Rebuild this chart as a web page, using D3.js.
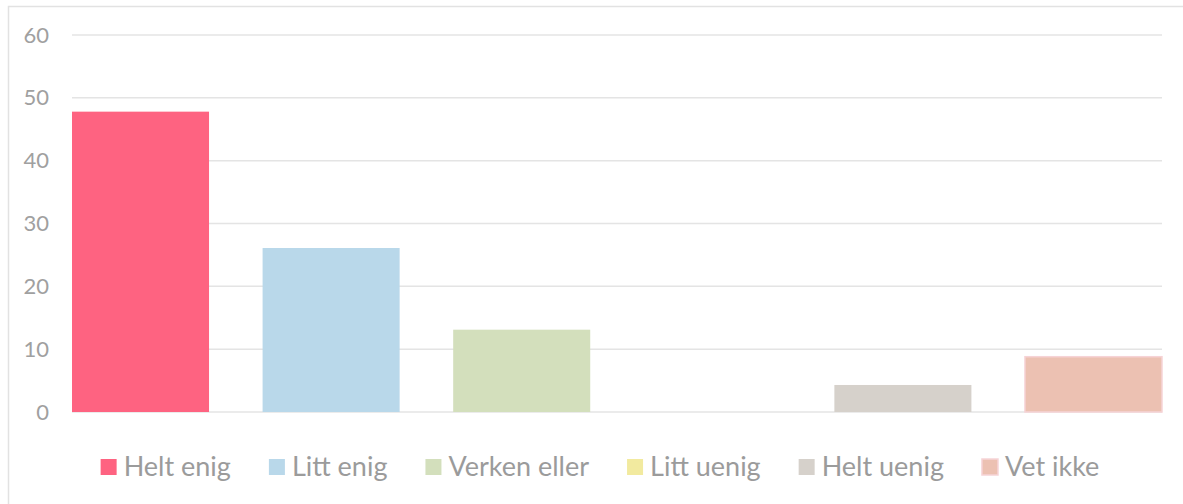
<!DOCTYPE html>
<html>
<head>
<meta charset="utf-8">
<script src="https://cdn.jsdelivr.net/npm/d3@7"></script>
<style>
  body { margin: 0; background: #fff; }
  svg { display: block; font-family: Lato, "Open Sans", sans-serif; }
</style>
</head>
<body>
<div id="chart"></div>
<script>
// answer categories and percentages
var categories = ["Helt enig", "Litt enig", "Verken eller", "Litt uenig", "Helt uenig", "Vet ikke"];
var values = [47.8, 26.1, 13.1, 0, 4.3, 8.8];
var colors = ["#fe6381", "#b9d8ea", "#d3dfbc", "#f2ea9f", "#d6d1cb", "#ecc1b2"];
var yTicks = [0, 10, 20, 30, 40, 50, 60];

var width = 1183, height = 504;
var margin = {left: 72, right: 21, top: 35, bottom: 92};
var pw = width - margin.left - margin.right;
var ph = height - margin.top - margin.bottom;

var svg = d3.select("#chart").append("svg")
    .attr("width", width)
    .attr("height", height);

// chart frame
svg.append("rect")
    .attr("x", 8.5).attr("y", 6.5)
    .attr("width", 1200).attr("height", 520)
    .attr("fill", "none")
    .attr("stroke", "#e2e2e2")
    .attr("stroke-width", 1.5);

var g = svg.append("g")
    .attr("transform", "translate(" + margin.left + "," + margin.top + ")");

var x = d3.scaleBand()
    .domain(categories)
    .range([0, pw])
    .paddingInner(0.281)
    .paddingOuter(0);

var y = d3.scaleLinear()
    .domain([0, 60])
    .range([ph, 0]);

// gridlines
g.selectAll("line.grid")
    .data(yTicks)
    .enter().append("line")
    .attr("class", "grid")
    .attr("x1", 0).attr("x2", pw)
    .attr("y1", d => y(d)).attr("y2", d => y(d))
    .attr("stroke", "#e4e4e4")
    .attr("stroke-width", 1.5);

// y axis labels
var yAxis = g.append("g")
    .call(d3.axisLeft(y).tickValues(yTicks).tickSize(0).tickPadding(23));
yAxis.select(".domain").remove();
yAxis.selectAll("text")
    .attr("fill", "#a0a0a0")
    .style("font-size", "22px")
    .style("font-family", "Lato, sans-serif");

// bars
g.selectAll("rect.bar")
    .data(values)
    .enter().append("rect")
    .attr("class", "bar")
    .attr("x", (d, i) => x(categories[i]))
    .attr("y", d => y(d))
    .attr("width", x.bandwidth())
    .attr("height", d => ph - y(d))
    .attr("fill", (d, i) => colors[i])
    .attr("stroke", (d, i) => i == 5 ? "#f6d3d6" : "none")
    .attr("stroke-width", 1.5);

// legend
var legend = svg.append("g");
var items = legend.selectAll("g")
    .data(categories)
    .enter().append("g");
items.append("rect")
    .attr("width", 16).attr("height", 16)
    .attr("y", 459)
    .attr("fill", (d, i) => colors[i])
    .attr("stroke", (d, i) => i == 5 ? "#f6d3d6" : "none")
    .attr("stroke-width", 1.5);
items.append("text")
    .attr("x", 23)
    .attr("y", 467)
    .attr("dy", "0.35em")
    .attr("fill", "#9b9b9b")
    .style("font-size", "27px")
    .text(d => d);

var pos = 0;
items.each(function() {
    var t = d3.select(this).select("text").node().getComputedTextLength();
    d3.select(this).attr("transform", "translate(" + pos + ",0)");
    pos += 23 + t + 38;
});
var total = pos - 38;
legend.attr("transform", "translate(" + (600 - total / 2) + ",0)");
</script>
</body>
</html>
